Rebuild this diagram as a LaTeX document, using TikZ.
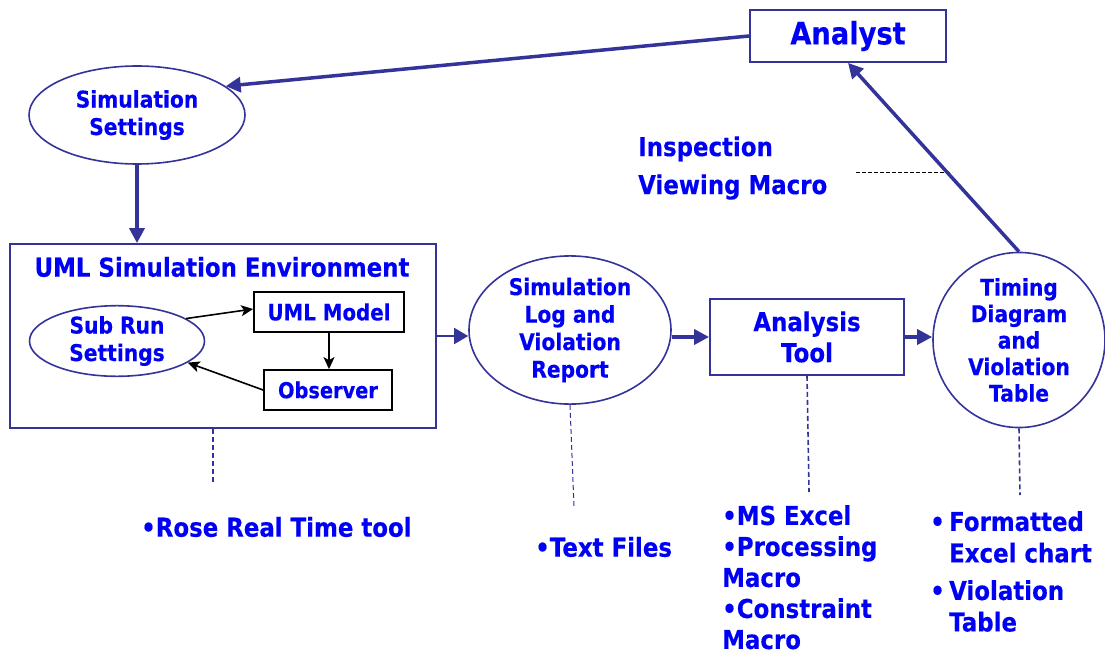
\documentclass[tikz,border=0pt]{standalone}
\usepackage{fontspec}
\setmainfont{DejaVu Sans}[FakeStretch=0.88, BoldFeatures={FakeBold=0.3}]
\usetikzlibrary{shapes.geometric,arrows.meta}
\definecolor{strokeblue}{HTML}{333399}
\definecolor{txtblue}{HTML}{0000F5}
\tikzset{
  lbl/.style={text=txtblue, font=\bfseries\fontsize{23}{27.5}\selectfont, align=center, inner sep=0pt},
  ell/.style={ellipse, draw=strokeblue, line width=1.6pt, fill=white, lbl},
  bigbox/.style={rectangle, draw=strokeblue, line width=1.8pt, fill=white, lbl},
  smallbox/.style={rectangle, draw=black, line width=1.8pt, fill=white, lbl},
  mainarrow/.style={draw=strokeblue, line width=3.5pt, -{Triangle[length=15pt,width=15pt]}},
  thinarrow/.style={draw=strokeblue, line width=1.5pt, -{Triangle[length=14pt,width=16pt]}},
  innerarrow/.style={draw=black, line width=1.6pt, -{Stealth[length=12pt,width=11pt,inset=3pt]}},
  dashline/.style={draw=strokeblue, line width=1.6pt, dash pattern=on 5pt off 3pt},
  thindash/.style={draw=strokeblue, line width=1pt, dash pattern=on 5pt off 3pt},
  listtxt/.style={text=txtblue, font=\bfseries\fontsize{26}{31.5}\selectfont, align=left, inner sep=0pt},
}
\begin{document}
\begin{tikzpicture}[x=1pt,y=-1pt]
\useasboundingbox (0,0) rectangle (1105,655);

% main nodes
\node[bigbox, minimum width=196pt, minimum height=52pt, font=\bfseries\fontsize{31}{36}\selectfont] (analyst) at (848,36) {\raisebox{-2pt}{Analyst}};
\node[ell, minimum width=216pt, minimum height=98pt] (simset) at (137,115) {Simulation\\Settings};
\node[bigbox, minimum width=426pt, minimum height=184pt] (env) at (223,336) {};
\node[lbl, font=\bfseries\fontsize{26}{30}\selectfont] (envtitle) at (222,267) {UML Simulation Environment};
\node[ell, minimum width=175pt, minimum height=48pt] (subrun) at (117,341) {Sub Run\\Settings};
\node[smallbox, minimum width=150pt, minimum height=40pt, font=\bfseries\fontsize{22.5}{27}\selectfont] (umlmodel) at (329,312) {UML Model};
\node[smallbox, minimum width=128pt, minimum height=40pt, font=\bfseries\fontsize{22}{27}\selectfont] (observer) at (328,390) {Observer};
\node[ell, minimum width=202pt, minimum height=136pt] (simlog) at (570,330) {Simulation\\Log and\\Violation\\Report};
\node[bigbox, minimum width=194pt, minimum height=76pt, font=\bfseries\fontsize{26}{31}\selectfont] (analysis) at (807,337) {Analysis\\Tool};
\node[ell, minimum width=172pt, minimum height=156pt, font=\bfseries\fontsize{23}{26.5}\selectfont] (timing) at (1019,340) {Timing\\Diagram\\and\\Violation\\Table};

% inspection text
\node[listtxt, anchor=west, font=\bfseries\fontsize{26}{38}\selectfont] (inspect) at (638,168) {Inspection\\Viewing Macro};
\coordinate (inspA) at (856,173);
\coordinate (inspB) at (952,173);
\draw[black, line width=1pt, dash pattern=on 4pt off 2pt] (inspA) -- (inspB);

% connectors
\draw[mainarrow] (analyst.west) -- (simset.18);
\draw[mainarrow] (simset.south) -- (simset.south |- env.north);
\draw[innerarrow] (subrun.18) -- ([yshift=3pt]umlmodel.west);
\draw[innerarrow] (umlmodel.south) -- (umlmodel.south |- observer.north);
\draw[innerarrow] (observer.west) -- (subrun.-17);
\draw[thinarrow] (env.east) -- (env.east -| simlog.west);
\draw[mainarrow] (analysis.west -| simlog.east) -- (analysis.west);
\draw[mainarrow] (analysis.east) -- (analysis.east -| timing.west);
\draw[mainarrow] (timing.north) -- (analyst.south);

% bullet texts
\node[listtxt, anchor=west] (rose) at (141,527) {•Rose Real Time tool};
\node[listtxt, anchor=west] (textfiles) at (535,547) {•Text Files};
\node[listtxt, anchor=north west, font=\bfseries\fontsize{26}{31}\selectfont] (excel) at (722,505) {•MS Excel\\•Processing\\Macro\\•Constraint\\Macro};
\node[listtxt, anchor=north west] (formatted) at (930,511) {•\,Formatted\\\hphantom{•\,}Excel chart\\[6pt]•\,Violation\\\hphantom{•\,}Table};

% dashed connectors
\coordinate (roseTop) at (213,484);
\draw[dashline] (env.south -| roseTop) -- (roseTop);
\coordinate (filesTop) at (574,507);
\draw[thindash] (simlog.south) -- (filesTop);
\coordinate (anKink) at (808,432);
\coordinate (excelTop) at (809,492);
\draw[dashline] (analysis.south) -- (anKink) -- (excelTop);
\coordinate (fmtTop) at (1020,495);
\draw[dashline] (timing.south) -- (fmtTop);
\end{tikzpicture}
\end{document}
